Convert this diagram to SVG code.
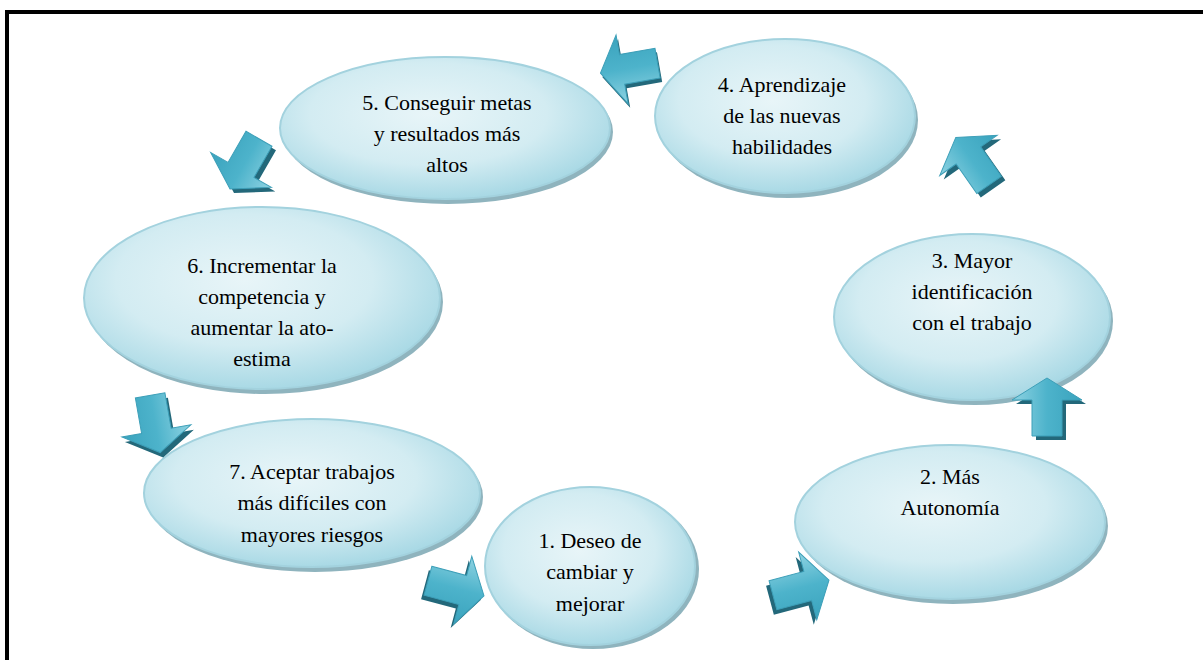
<svg xmlns="http://www.w3.org/2000/svg" xmlns:xlink="http://www.w3.org/1999/xlink" width="1203" height="660" viewBox="0 0 1203 660">
<defs>
<radialGradient id="eg" cx="0.45" cy="0.4" r="0.6">
<stop offset="0" stop-color="#e8f5f8"/>
<stop offset="0.6" stop-color="#d3ecf2"/>
<stop offset="1" stop-color="#a9d9e5"/>
</radialGradient>
<linearGradient id="ag" x1="0" y1="0" x2="0" y2="1">
<stop offset="0" stop-color="#8fd3e2"/>
<stop offset="0.5" stop-color="#4db3cb"/>
<stop offset="1" stop-color="#3aa3bd"/>
</linearGradient>
<path id="arrow" d="M-28,-15 L8,-15 L8,-35 L30,0 L8,35 L8,15 L-28,15 Z"/>
</defs>
<style>
.sh{fill:#8fb4be}
.el{fill:url(#eg);stroke:#a3d2de;stroke-width:2}
.t{font-family:'Times New Roman',Times,'Liberation Serif','DejaVu Serif',serif;font-size:22px;fill:#000;text-anchor:middle}
.as{fill:#23687a}
.af{fill:url(#ag);stroke:#3d9fb8;stroke-width:1}
</style>
<rect x="0" y="0" width="1203" height="660" fill="#fff"/>
<path d="M7,660 V12 H1203" fill="none" stroke="#000" stroke-width="4"/>

<g id="n1"><ellipse class="sh" cx="593" cy="569" rx="106" ry="80"/><ellipse class="el" cx="590" cy="566" rx="105" ry="79"/>
<text class="t" x="590" y="548">1. Deseo de</text><text class="t" x="590" y="579">cambiar y</text><text class="t" x="590" y="611">mejorar</text></g>

<g id="n2"><ellipse class="sh" cx="953" cy="526" rx="155" ry="78"/><ellipse class="el" cx="950" cy="522" rx="155" ry="77"/>
<text class="t" x="950" y="484">2. Más</text><text class="t" x="950" y="515">Autonomía</text></g>

<g id="n3"><ellipse class="sh" cx="975" cy="321" rx="138" ry="84"/><ellipse class="el" cx="972" cy="317" rx="138" ry="83"/>
<text class="t" x="972" y="268">3. Mayor</text><text class="t" x="972" y="299">identificación</text><text class="t" x="972" y="330">con el trabajo</text></g>

<g id="n4"><ellipse class="sh" cx="788" cy="120" rx="130" ry="78"/><ellipse class="el" cx="785" cy="116" rx="130" ry="77"/>
<text class="t" x="782" y="92">4. Aprendizaje</text><text class="t" x="782" y="123">de las nuevas</text><text class="t" x="782" y="154">habilidades</text></g>

<g id="n5"><ellipse class="sh" cx="448" cy="132" rx="165" ry="72"/><ellipse class="el" cx="445" cy="128" rx="165" ry="71"/>
<text class="t" x="447" y="110">5. Conseguir metas</text><text class="t" x="447" y="141">y resultados más</text><text class="t" x="447" y="172">altos</text></g>

<g id="n6"><ellipse class="sh" cx="265" cy="302" rx="178" ry="92"/><ellipse class="el" cx="262" cy="298" rx="178" ry="91"/>
<text class="t" x="262" y="273">6. Incrementar la</text><text class="t" x="262" y="304">competencia y</text><text class="t" x="262" y="335">aumentar la ato-</text><text class="t" x="262" y="366">estima</text></g>

<g id="n7"><ellipse class="sh" cx="315" cy="497" rx="168" ry="75"/><ellipse class="el" cx="312" cy="493" rx="168" ry="74"/>
<text class="t" x="312" y="479">7. Aceptar trabajos</text><text class="t" x="312" y="510">más difíciles con</text><text class="t" x="312" y="542">mayores riesgos</text></g>

<g id="connectors">
<g transform="translate(455,588)"><use xlink:href="#arrow" class="as" transform="translate(-3,4) rotate(15)"/><use xlink:href="#arrow" class="af" transform="rotate(15)"/></g>
<g transform="translate(800,588)"><use xlink:href="#arrow" class="as" transform="translate(-3,5) rotate(-15)"/><use xlink:href="#arrow" class="af" transform="rotate(-15)"/></g>
<g transform="translate(1047,408)"><use xlink:href="#arrow" class="as" transform="translate(4,4) rotate(-90)"/><use xlink:href="#arrow" class="af" transform="rotate(-90)"/></g>
<g transform="translate(973,162)"><use xlink:href="#arrow" class="as" transform="translate(4,4) rotate(-125)"/><use xlink:href="#arrow" class="af" transform="rotate(-125)"/></g>
<g transform="translate(630,68)"><use xlink:href="#arrow" class="as" transform="translate(2,4) rotate(170)"/><use xlink:href="#arrow" class="af" transform="rotate(170)"/></g>
<g transform="translate(245,163)"><use xlink:href="#arrow" class="as" transform="translate(4,4) rotate(120)"/><use xlink:href="#arrow" class="af" transform="rotate(120)"/></g>
<g transform="translate(155,423)"><use xlink:href="#arrow" class="as" transform="translate(3,5) rotate(80)"/><use xlink:href="#arrow" class="af" transform="rotate(80)"/></g>
</g>
</svg>
